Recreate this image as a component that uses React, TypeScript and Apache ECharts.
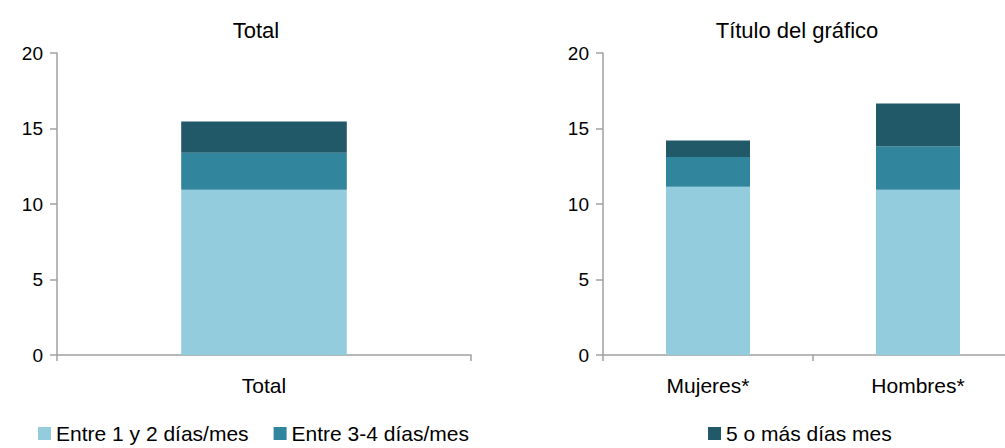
import React, { useEffect, useRef } from "react";
import * as echarts from "echarts";

const totalCategories = ["Total"];
const sexCategories = ["Mujeres*", "Hombres*"];
const seriesNames = ["Entre 1 y 2 días/mes", "Entre 3-4 días/mes", "5 o más días mes"];
const totalLow = [10.95];
const totalMid = [2.45];
const totalHigh = [2.06];
const sexLow = [11.15, 10.95];
const sexMid = [1.97, 2.87];
const sexHigh = [1.08, 2.84];
const yTicks = [0, 5, 10, 15, 20];

const colors = ["#93CDDD", "#31859C", "#215968"];
const FONT = "'Liberation Sans', Arial, sans-serif";
const AXIS_COLOR = "#A0A0A0";

export default function App() {
  const ref = useRef<HTMLDivElement>(null);
  useEffect(() => {
    document.body.style.margin = "0";
    if (!ref.current) return;
    const chart = echarts.init(ref.current, undefined, { renderer: "svg" });
    const yAxis = (gi: number) => ({
      type: "value",
      gridIndex: gi,
      min: yTicks[0],
      max: yTicks[yTicks.length - 1],
      interval: 5,
      axisLine: { show: true, lineStyle: { color: AXIS_COLOR, width: 1.5 } },
      axisTick: { show: true, length: 7, lineStyle: { color: AXIS_COLOR, width: 1.5 } },
      splitLine: { show: false },
      axisLabel: { color: "#000", fontFamily: FONT, fontSize: 19, margin: 14 },
    });
    const xAxis = (gi: number, data: string[]) => ({
      type: "category",
      gridIndex: gi,
      data,
      axisLine: { show: true, lineStyle: { color: AXIS_COLOR, width: 1.5 } },
      axisTick: { show: true, length: 6, lineStyle: { color: AXIS_COLOR, width: 1.5 } },
      axisLabel: { color: "#000", fontFamily: FONT, fontSize: 21, margin: 20 },
    });
    const mk = (name: string, data: number[], gi: number, ci: number) => ({
      type: "bar",
      name,
      data,
      xAxisIndex: gi,
      yAxisIndex: gi,
      stack: "s" + gi,
      barWidth: "40%",
      itemStyle: { color: colors[ci] },
    });
    chart.setOption({
      animation: false,
      title: [
        {
          text: "Total",
          left: 251,
          top: 14,
          textAlign: "center",
          textStyle: { fontFamily: FONT, fontSize: 22, fontWeight: "normal", color: "#000" },
        },
        {
          text: "Título del gráfico",
          left: 792,
          top: 14,
          textAlign: "center",
          textStyle: { fontFamily: FONT, fontSize: 22, fontWeight: "normal", color: "#000" },
        },
      ],
      legend: [
        {
          data: [seriesNames[0], seriesNames[1]],
          left: 38,
          top: 423,
          padding: 0,
          icon: "rect",
          itemWidth: 13,
          itemHeight: 13,
          itemGap: 25,
          textStyle: { fontFamily: FONT, fontSize: 21, color: "#000" },
        },
        {
          data: [seriesNames[2]],
          left: 708,
          top: 423,
          padding: 0,
          icon: "rect",
          itemWidth: 13,
          itemHeight: 13,
          textStyle: { fontFamily: FONT, fontSize: 21, color: "#000" },
        },
      ],
      grid: [
        { left: 57, width: 414, top: 53, height: 302, containLabel: false },
        { left: 603, width: 420, top: 53, height: 302, containLabel: false },
      ],
      xAxis: [xAxis(0, totalCategories), xAxis(1, sexCategories)],
      yAxis: [yAxis(0), yAxis(1)],
      series: [
        mk(seriesNames[0], totalLow, 0, 0),
        mk(seriesNames[1], totalMid, 0, 1),
        mk(seriesNames[2], totalHigh, 0, 2),
        mk(seriesNames[0], sexLow, 1, 0),
        mk(seriesNames[1], sexMid, 1, 1),
        mk(seriesNames[2], sexHigh, 1, 2),
      ],
    });
    return () => chart.dispose();
  }, []);
  return (
    <div style={{ width: 1005, height: 448, overflow: "hidden", position: "relative" }}>
      <div ref={ref} style={{ width: 1040, height: 448 }} />
    </div>
  );
}
